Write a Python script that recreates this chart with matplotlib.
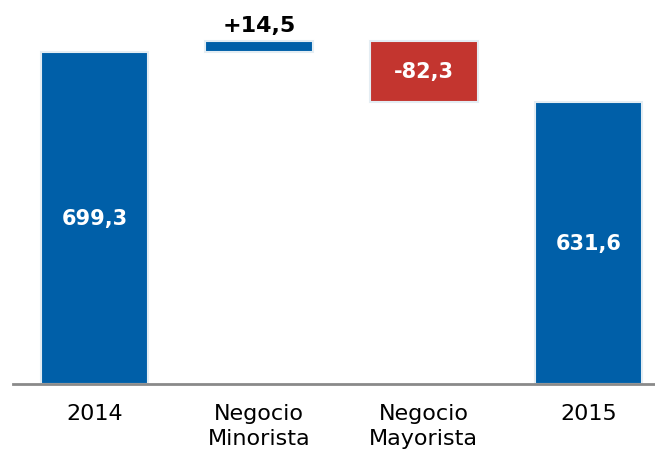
import matplotlib
matplotlib.use("Agg")
import matplotlib.pyplot as plt

# waterfall data (millones)
categories = ["2014", "Negocio\nMinorista", "Negocio\nMayorista", "2015"]
start_value = 699.3
changes = [14.5, -82.3]
end_value = 631.6
value_labels = ["699,3", "+14,5", "-82,3", "631,6"]

blue = "#005fa8"
red = "#c3352f"
edge = "#e4edf3"

fig = plt.figure(figsize=(6.55, 4.56), dpi=100)
ax = fig.add_axes([13 / 655, 71 / 456, 642 / 655, 385 / 456])
ylo, yhi = 249.4, 770.7
ax.set_xlim(-0.495, 3.404)
ax.set_ylim(ylo, yhi)

# bottoms and heights of each bar
bottoms = [ylo]
heights = [start_value - ylo]
level = start_value
for ch in changes:
    bottoms.append(level if ch > 0 else level + ch)
    heights.append(abs(ch))
    level += ch
bottoms.append(ylo)
heights.append(end_value - ylo)
colors = [blue] + [blue if c > 0 else red for c in changes] + [blue]

x = range(len(categories))
ax.bar(x, heights, bottom=bottoms, width=0.655, color=colors,
       edgecolor=edge, linewidth=1.5)

# labels
for i, (b, h, lab) in enumerate(zip(bottoms, heights, value_labels)):
    if i == 1:
        ax.annotate(lab, (i, b + h), xytext=(0, 4), textcoords="offset points",
                    ha="center", va="bottom", fontsize=16, fontweight="bold",
                    color="black")
    else:
        ax.text(i, b + h / 2, lab, ha="center", va="center", fontsize=15,
                fontweight="bold", color="white")

ax.set_xticks(list(x))
ax.set_xticklabels(categories, fontsize=16, linespacing=1.3)
ax.tick_params(axis="x", length=0, pad=14)
ax.set_yticks([])
for s in ["top", "right", "left"]:
    ax.spines[s].set_visible(False)
ax.spines["bottom"].set_color("#8a8a8a")
ax.spines["bottom"].set_linewidth(2)

fig.savefig("out.png", dpi=100)
